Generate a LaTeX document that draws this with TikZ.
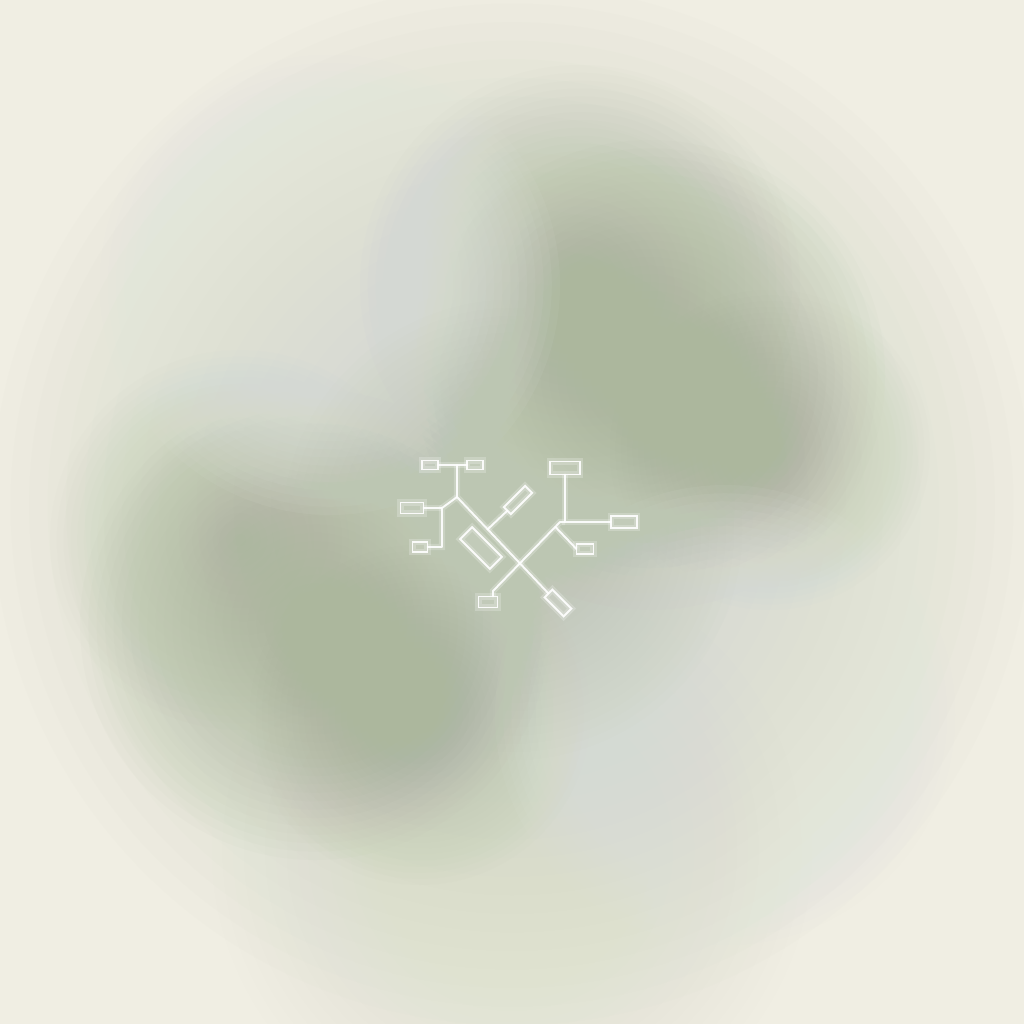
\documentclass[tikz,border=0pt]{standalone}
\usetikzlibrary{calc}
\definecolor{bgcream}{HTML}{F0EEE3}
\definecolor{halo}{HTML}{D4DACB}
\definecolor{darkg}{HTML}{ACB79D}
\definecolor{lightb}{HTML}{E2E6E1}
\definecolor{midg}{HTML}{BCC6B2}
\definecolor{paleg}{HTML}{E2E5D3}
% soft blob: x, y, radius, colour, opacity of each ring
\newcommand\hazeblob[5]{%
  \foreach \k in {1,...,28} {\fill[#4, fill opacity=#5] (#1,#2) circle ({#3*\k/28});}}
\tikzset{
  wire/.style={draw=white, line width=0.55pt, draw opacity=0.9, line cap=round, line join=round,
    preaction={draw=white, line width=1.8pt, draw opacity=0.22}},
  pbox/.style={draw=white, line width=0.55pt, draw opacity=0.9, fill=white, fill opacity=0.10,
    inner sep=0pt, outer sep=0pt, text opacity=1,
    preaction={draw=white, line width=1.8pt, draw opacity=0.22}}
}
\begin{document}
\begin{tikzpicture}[x=0.01cm, y=-0.01cm]
\fill[bgcream] (0,0) rectangle (1024,1024);
\useasboundingbox (0,0) rectangle (1024,1024);
% background haze
\hazeblob{512}{850}{300}{paleg}{0.035}
\hazeblob{512}{505}{520}{halo}{0.065}
% dark olive bands
\hazeblob{580}{285}{220}{darkg}{0.03}
\hazeblob{650}{375}{235}{darkg}{0.042}
\hazeblob{770}{450}{160}{darkg}{0.022}
\hazeblob{240}{540}{190}{darkg}{0.022}
\hazeblob{315}{625}{235}{darkg}{0.042}
\hazeblob{420}{715}{170}{darkg}{0.026}
% light bluish patches
\hazeblob{330}{285}{230}{lightb}{0.07}
\hazeblob{725}{715}{230}{lightb}{0.07}
% center
\hazeblob{512}{530}{230}{midg}{0.04}
% faint glow behind the figure
\hazeblob{518}{535}{110}{white}{0.008}

% boxes
\node[pbox, minimum width=0.16cm, minimum height=0.09cm] (A) at (430,465) {};
\node[pbox, minimum width=0.16cm, minimum height=0.09cm] (B) at (475,465) {};
\node[pbox, minimum width=0.23cm, minimum height=0.11cm] (C) at (412,508) {};
\node[pbox, minimum width=0.15cm, minimum height=0.10cm] (D) at (420,547) {};
\node[pbox, minimum width=0.42cm, minimum height=0.17cm, rotate=-45] (E) at (481,548) {};
\node[pbox, minimum width=0.30cm, minimum height=0.10cm, rotate=45] (F) at (518,500) {};
\node[pbox, minimum width=0.30cm, minimum height=0.13cm] (G) at (565,468) {};
\node[pbox, minimum width=0.26cm, minimum height=0.12cm] (H) at (624,522) {};
\node[pbox, minimum width=0.17cm, minimum height=0.10cm] (I) at (585,549) {};
\node[pbox, minimum width=0.19cm, minimum height=0.11cm] (J) at (488,602) {};
\node[pbox, minimum width=0.27cm, minimum height=0.11cm, rotate=-45] (K) at (558,603) {};

% junctions
\coordinate (j1) at (457,465);
\coordinate (j2) at (457,497);
\coordinate (j3) at (442,508);
\coordinate (j4) at (565,522);
\coordinate (jb) at (493,591);

% left tree
\draw[wire] (A.east) -- (B.west);
\draw[wire] (j1) -- (j2) -- (K.west);
\draw[wire] (j2) -- (j3) -- (j3 |- D.east) -- (D.east);
\draw[wire] (C.east) -- (j3);
\draw[wire] (F.west) -- ($(j2)!(F.west)!(K.west)$);
% right tree
\draw[wire] (G.south) -- (j4) -- (H.west);
\draw[wire] (j4) -- ++(-5,0) coordinate (j5) -- (jb) -- (jb |- J.north);
\draw[wire] ($(j5)!0.07!(jb)$) -- (I.west);
\end{tikzpicture}
\end{document}
